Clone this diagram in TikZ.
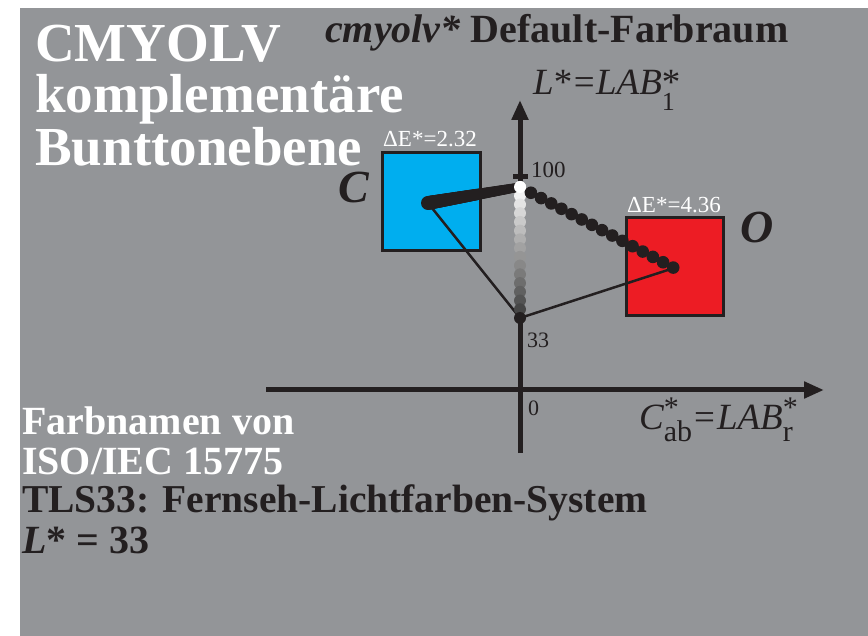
\documentclass[tikz,border=0pt]{standalone}
\usepackage{fontspec}
\setmainfont{Liberation Serif}
\usetikzlibrary{arrows.meta,calc}
\definecolor{bg}{RGB}{147,149,152}
\definecolor{ink}{RGB}{35,31,32}
\definecolor{cyanbox}{RGB}{0,174,239}
\definecolor{redbox}{RGB}{237,28,36}
\newcommand{\fs}[1]{\fontsize{#1}{#1}\selectfont}
% #1 sup, #2 sub, #3 sup raise, #4 sub raise, #5 sup size, #6 sub size
\newcommand{\supsubx}[6]{\makebox[0pt][l]{\raisebox{#3}{\fs{#5}#1}}\raisebox{#4}{\fs{#6}#2}}
\begin{document}
\begin{tikzpicture}[x=1pt,y=-1pt,
  txt/.style={inner sep=0pt, anchor=base west},
  boxsq/.style={draw=ink, line width=3pt},
  axisline/.style={draw=ink, line width=5pt, -{Triangle[length=20pt,width=16pt]}},
  thinline/.style={draw=ink, line width=2.5pt}]
\useasboundingbox (0,0) rectangle (868,636);
\fill[white] (0,0) rectangle (868,636);
\fill[bg] (20,8) rectangle (868,636);

% squares
\path[boxsq, fill=cyanbox] (382,153) rectangle (480,251);
\path[boxsq, fill=redbox] (626,218) rectangle (723,316);

% axes
\coordinate (vb) at (520,453);
\coordinate (vt) at (520,100);
\coordinate (hl) at (266,390);
\coordinate (hr) at (824,390);
\path[axisline] (vb) -- (vt);
\path[axisline] (hl) -- (hr);
\coordinate (tk1) at (513,177);
\coordinate (tk2) at (528,177);
\draw[ink, line width=5pt] (tk1) -- (tk2);

% key points
\coordinate (Cp) at (428,203);
\coordinate (W) at (520,187);
\coordinate (Op) at (674,268);
\coordinate (G) at (520,318);

\path[thinline] (Cp) -- (G) -- (Op);

% gray column
\foreach \i in {0,...,14}{
  \pgfmathsetmacro{\lv}{100-5.2*\i}
  \fill[white!\lv!black] ($(W)!\i/15!(G)$) circle (6pt);
}
\fill[ink] (G) circle (6pt);

% dense line C -> W
\foreach \t in {0,0.012,...,0.95}{
  \pgfmathsetmacro{\r}{7-2.4*\t}
  \fill[ink] ($(Cp)!\t!(W)$) circle (\r pt);
}
\fill[white] (W) circle (6pt);

% dotted line W -> O
\foreach \i in {0,...,14}{
  \pgfmathsetmacro{\t}{0.071+0.066*\i}
  \fill[ink] ($(W)!\t!(Op)$) circle (6.3pt);
}

% titles
\node[txt, text=white, font=\bfseries\fs{55}] (t1) at (35,62) {CMYOLV};
\node[txt, text=white, font=\bfseries\fs{55}] (t2) at (35,113) {komplementäre};
\node[txt, text=white, font=\bfseries\fs{55}] (t3) at (35,166) {Bunttonebene};
\node[txt, text=ink, font=\bfseries\fs{40}] (t4) at (325,43) {\itshape cmyolv*\upshape{} Default-Farbraum};

% bottom texts
\node[txt, text=white, font=\bfseries\fs{40}] (b1) at (22,435) {Farbnamen von};
\node[txt, text=white, font=\bfseries\fs{40}] (b2) at (22,474) {ISO/IEC 15775};
\node[txt, text=ink, font=\bfseries\fs{39.5}] (b3) at (22,512) {TLS33: Fernseh-Lichtfarben-System};
\node[txt, text=ink, font=\bfseries\fs{40}] (b4) at (22,553) {\itshape L\upshape* = 33};

% color labels
\node[txt, text=ink, font=\bfseries\itshape\fs{46}] (lc) at (338,203) {C};
\node[txt, text=ink, font=\bfseries\itshape\fs{46}] (lo) at (740,243) {O};
\node[txt, text=white, font=\fs{23}] (de1) at (383,147) {ΔE*=2.32};
\node[txt, text=white, font=\fs{23}] (de2) at (627,213) {ΔE*=4.36};

% axis numbers
\node[txt, text=ink, font=\fs{23}] (n100) at (531,178) {100};
\node[txt, text=ink, font=\fs{22}] (n33) at (527,348) {33};
\node[txt, text=ink, font=\fs{22}] (n0) at (528,416) {0};

% axis labels
\node[txt, text=ink, font=\fs{37}] (la) at (533,95) {\itshape L\upshape*\hspace{1.5pt}=\hspace{1.5pt}\itshape LAB\upshape\supsubx{*}{1}{0pt}{-16pt}{37}{26}};
\node[txt, text=ink, font=\fs{37}] (lb) at (639,429) {\itshape C\upshape\supsubx{*}{ab}{12pt}{-13pt}{30}{30}\hspace{2pt}=\hspace{2pt}\itshape LAB\upshape\supsubx{*}{r}{12pt}{-13pt}{30}{30}};
\end{tikzpicture}
\end{document}
